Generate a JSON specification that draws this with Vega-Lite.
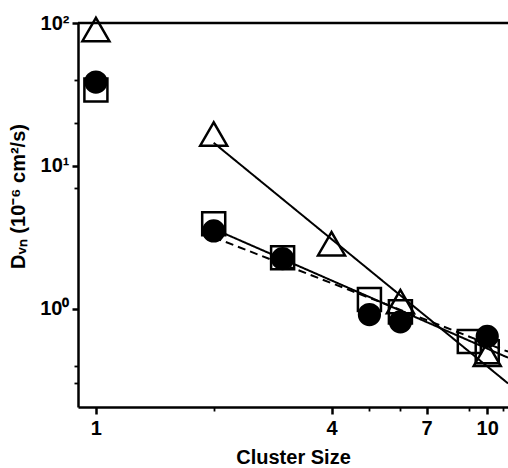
{
  "$schema": "https://vega.github.io/schema/vega-lite/v6.json",
  "width": 430,
  "height": 384,
  "autosize": {"type": "none"},
  "padding": {"left": 78, "top": 23, "right": 0, "bottom": 61},
  "background": "white",
  "config": {
    "view": {"stroke": null},
    "font": "Liberation Sans",
    "axis": {
      "grid": false,
      "domainColor": "black",
      "domainWidth": 2.5,
      "tickColor": "black",
      "tickWidth": 2.5,
      "labelColor": "black",
      "labelFont": "Liberation Sans",
      "labelFontWeight": "bold",
      "labelFontSize": 20,
      "titleColor": "black",
      "titleFont": "Liberation Sans",
      "titleFontWeight": "bold",
      "titleFontSize": 20
    }
  },
  "datasets": {
    "open": [
      {"series": "square", "size": 1, "D": 34},
      {"series": "square", "size": 2, "D": 3.93},
      {"series": "square", "size": 3, "D": 2.27},
      {"series": "square", "size": 5, "D": 1.16},
      {"series": "square", "size": 6, "D": 0.95},
      {"series": "square", "size": 9, "D": 0.59},
      {"series": "square", "size": 10, "D": 0.5},
      {"series": "triangle", "size": 1, "D": 90},
      {"series": "triangle", "size": 2, "D": 16.7},
      {"series": "triangle", "size": 4, "D": 2.85},
      {"series": "triangle", "size": 6, "D": 1.12},
      {"series": "triangle", "size": 10, "D": 0.48}
    ],
    "circles": [
      {"series": "circle", "size": 1, "D": 38.6},
      {"series": "circle", "size": 2, "D": 3.5},
      {"series": "circle", "size": 3, "D": 2.24},
      {"series": "circle", "size": 5, "D": 0.91},
      {"series": "circle", "size": 6, "D": 0.81},
      {"series": "circle", "size": 10, "D": 0.64}
    ],
    "fits": [
      {"fit": "triangle fit", "size": 2, "D": 14.5},
      {"fit": "triangle fit", "size": 11.3, "D": 0.3},
      {"fit": "solid fit", "size": 2, "D": 3.62},
      {"fit": "solid fit", "size": 11.3, "D": 0.454},
      {"fit": "dashed fit", "size": 2, "D": 3.16},
      {"fit": "dashed fit", "size": 11.3, "D": 0.5}
    ],
    "top": [{"D": 100}]
  },
  "layer": [
    {
      "data": {"name": "fits"},
      "mark": {"type": "line", "clip": true, "color": "black", "strokeWidth": 2},
      "encoding": {
        "x": {
          "field": "size", "type": "quantitative",
          "scale": {"type": "log", "domain": [0.9, 11.3], "nice": false},
          "axis": {
            "orient": "bottom",
            "values": [1, 4, 7, 10],
            "ticks": false,
            "tickSize": 0,
            "labelPadding": 11,
            "title": "Cluster Size",
            "titlePadding": 9
          }
        },
        "y": {
          "field": "D", "type": "quantitative",
          "scale": {"type": "log", "domain": [0.205, 100], "nice": false},
          "axis": {
            "orient": "left",
            "values": [1, 10, 100],
            "ticks": false,
            "tickSize": 0,
            "labelPadding": 9,
            "labelExpr": "datum.value == 100 ? '10²' : datum.value == 10 ? '10¹' : '10⁰'",
            "title": "Dᵥₙ (10⁻⁶ cm²/s)",
            "titlePadding": 11,
            "titleY": 173
          }
        },
        "detail": {"field": "fit"},
        "strokeDash": {
          "field": "fit", "type": "nominal",
          "scale": {"domain": ["triangle fit", "solid fit", "dashed fit"], "range": [[1, 0], [1, 0], [8, 5]]},
          "legend": null
        }
      }
    },
    {
      "data": {"name": "top"},
      "mark": {"type": "rule", "color": "black", "strokeWidth": 2.5},
      "encoding": {
        "y": {"field": "D", "type": "quantitative", "axis": null}
      }
    },
    {
      "data": {"name": "open"},
      "mark": {"type": "point", "filled": false, "stroke": "black", "strokeWidth": 2.5, "opacity": 1, "clip": false},
      "encoding": {
        "x": {
          "field": "size", "type": "quantitative",
          "axis": {"orient": "bottom", "values": [1, 4, 7, 10], "ticks": true, "tickSize": 7, "domain": false, "labels": false, "title": null}
        },
        "y": {
          "field": "D", "type": "quantitative",
          "axis": {"orient": "left", "values": [1, 10, 100], "ticks": true, "tickSize": 6, "domain": false, "labels": false, "title": null}
        },
        "shape": {
          "field": "series", "type": "nominal",
          "scale": {"domain": ["square", "triangle"], "range": ["square", "triangle-up"]},
          "legend": null
        },
        "size": {
          "field": "series", "type": "nominal",
          "scale": {"domain": ["square", "triangle"], "range": [530, 730]},
          "legend": null
        }
      }
    },
    {
      "data": {"name": "circles"},
      "mark": {"type": "point", "shape": "circle", "filled": true, "color": "black", "stroke": "black", "strokeWidth": 2.5, "opacity": 1, "size": 430, "clip": false},
      "encoding": {
        "x": {
          "field": "size", "type": "quantitative",
          "axis": {"orient": "bottom", "values": [2, 5, 6, 9, 11], "ticks": true, "tickSize": 4, "tickWidth": 1.8, "domain": false, "labels": false, "title": null}
        },
        "y": {
          "field": "D", "type": "quantitative",
          "axis": {"orient": "left", "values": [0.3, 0.4, 7, 20, 40], "ticks": true, "tickSize": 4, "tickWidth": 1.8, "domain": false, "labels": false, "title": null}
        }
      }
    }
  ],
  "resolve": {"axis": {"x": "independent", "y": "independent"}}
}
